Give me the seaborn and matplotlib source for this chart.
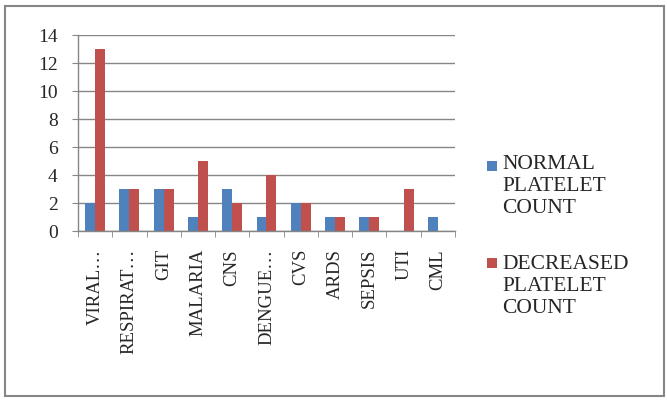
import matplotlib
matplotlib.use("Agg")
import matplotlib.pyplot as plt
import seaborn as sns
import pandas as pd
import numpy as np
from matplotlib.patches import Rectangle

categories = ["VIRAL…", "RESPIRAT…", "GIT", "MALARIA", "CNS", "DENGUE…",
              "CVS", "ARDS", "SEPSIS", "UTI", "CML"]
normal = [2, 3, 3, 1, 3, 1, 2, 1, 1, 0, 1]
decreased = [13, 3, 3, 5, 2, 4, 2, 1, 1, 3, 0]
series = ["NORMAL\nPLATELET\nCOUNT", "DECREASED\nPLATELET\nCOUNT"]
colors = ["#4F81BD", "#C0504D"]
yticks = [0, 2, 4, 6, 8, 10, 12, 14]

df = pd.DataFrame({
    "cat": categories * 2,
    "val": normal + decreased,
    "series": [series[0]] * len(categories) + [series[1]] * len(categories),
})

sns.set_style("white")
plt.rcParams["font.family"] = ["Liberation Serif", "DejaVu Serif"]

fig = plt.figure(figsize=(6.67, 4.01), dpi=100)
ax = fig.add_axes([78/667, 1-231/401, (455-78)/667, (231-35)/401])

sns.barplot(data=df, x="cat", y="val", hue="series", palette=colors,
            width=0.58, gap=0, saturation=1, ax=ax, legend=False,
            edgecolor="none")

ax.set_ylim(0, 14)
ax.set_xlim(-0.5, len(categories) - 0.5)
ax.set_yticks(yticks)
ax.set_yticklabels([str(t) for t in yticks], fontsize=14)
ax.yaxis.grid(True, color="#868686", linewidth=1)
ax.set_axisbelow(True)
ax.set_xlabel("")
ax.set_ylabel("")
for s in ["top", "right"]:
    ax.spines[s].set_visible(False)
for s in ["left", "bottom"]:
    ax.spines[s].set_color("#868686")
    ax.spines[s].set_linewidth(1)
ax.tick_params(axis="y", length=4.5, color="#868686", pad=10, left=True)
ax.set_xticks(range(len(categories)))
ax.set_xticklabels(categories, rotation=90, fontsize=13.5)
ax.tick_params(axis="x", which="major", length=0, pad=13)
ax.set_xticks(np.arange(-0.5, len(categories), 1.0), minor=True)
ax.tick_params(axis="x", which="minor", length=4.5, color="#868686", bottom=True)

# legend
sq_top = [161, 258]
txt_top = [155, 255]
for i, (lab, col) in enumerate(zip(series, colors)):
    fig.patches.append(Rectangle((487/667, 1-(sq_top[i]+10)/401), 10/667, 10/401,
                                 transform=fig.transFigure, facecolor=col,
                                 edgecolor="none"))
    fig.text(502/667, 1-txt_top[i]/401, lab, fontsize=15.5, va="top", ha="left",
             linespacing=1.22)

# outer border
fig.patches.append(Rectangle((5/667, 5/401), 659/667, 390/401,
                             transform=fig.transFigure, facecolor="none",
                             edgecolor="#868686", linewidth=1.5))

fig.savefig("out.png", dpi=100)
